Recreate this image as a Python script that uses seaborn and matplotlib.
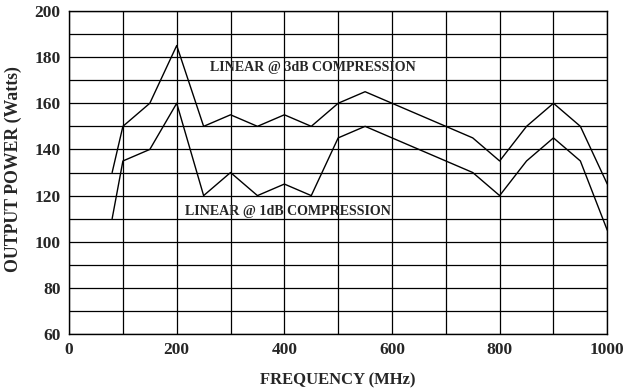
import numpy as np
import pandas as pd
import matplotlib
matplotlib.use("Agg")
import matplotlib.pyplot as plt
import seaborn as sns

# ── Data ─────────────────────────────────────────────────────────────────────
freq_3db = [80, 100, 150, 200, 250, 300, 350, 400, 450, 500, 550, 750, 800, 850, 900, 950, 1000]
power_3db = [130, 150, 160, 185, 150, 155, 150, 155, 150, 160, 165, 145, 135, 150, 160, 150, 125]

freq_1db = [80, 100, 150, 200, 250, 300, 350, 400, 450, 500, 550, 750, 800, 850, 900, 950, 1000]
power_1db = [110, 135, 140, 160, 120, 130, 120, 125, 120, 145, 150, 130, 120, 135, 145, 135, 105]

x_ticks = [0, 200, 400, 600, 800, 1000]
y_ticks = [60, 80, 100, 120, 140, 160, 180, 200]

df = pd.concat([
    pd.DataFrame({"freq": freq_3db, "power": power_3db, "curve": "3dB"}),
    pd.DataFrame({"freq": freq_1db, "power": power_1db, "curve": "1dB"}),
])

# ── Style ────────────────────────────────────────────────────────────────────
sns.set_style("white")
plt.rcParams["font.family"] = ["Liberation Serif", "DejaVu Serif"]
plt.rcParams["font.weight"] = "bold"

fig, ax = plt.subplots(figsize=(6.28, 3.89), dpi=100)
fig.subplots_adjust(left=0.11, right=0.967, top=0.972, bottom=0.141)

sns.lineplot(data=df, x="freq", y="power", units="curve", estimator=None,
             color="black", linewidth=1.0, sort=False, ax=ax)

ax.set_xlim(0, 1000)
ax.set_ylim(60, 200)
ax.set_xticks(x_ticks)
ax.set_yticks(y_ticks)
ax.set_xticks(np.arange(0, 1001, 100), minor=True)
ax.set_yticks(np.arange(60, 201, 10), minor=True)
ax.grid(which="both", color="black", linewidth=0.9)
ax.tick_params(which="both", length=0, labelsize=12.5, pad=6)
for lab in ax.get_xticklabels() + ax.get_yticklabels():
    lab.set_fontweight("bold")
for s in ax.spines.values():
    s.set_color("black")
    s.set_linewidth(1.0)

ax.set_xlabel("FREQUENCY (MHz)", fontsize=12, fontweight="bold", labelpad=10)
ax.set_ylabel("OUTPUT POWER (Watts)", fontsize=12.8, fontweight="bold")
ax.yaxis.set_label_coords(-0.088, 0.51)

ax.text(262, 175.7, "LINEAR @ 3dB COMPRESSION", fontsize=10.1, fontweight="bold", va="center")
ax.text(216, 113.3, "LINEAR @ 1dB COMPRESSION", fontsize=10.1, fontweight="bold", va="center")

fig.savefig("out.png", dpi=100)
